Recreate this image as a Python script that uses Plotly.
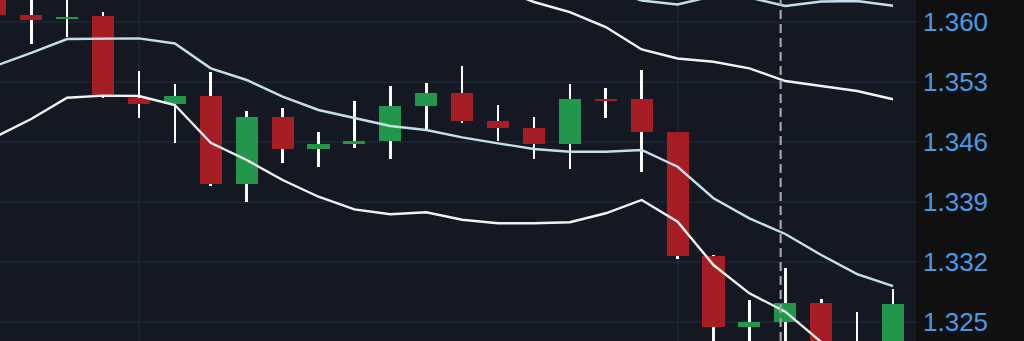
import plotly.graph_objects as go

# ---- data -------------------------------------------------------------
idx = list(range(26))
open_ = [1.3632, 1.36078, 1.36026, 1.36061, 1.35113, 1.35036, 1.35133, 1.34103, 1.34892, 1.34515,
         1.34579, 1.34608, 1.35020, 1.35165, 1.34841, 1.34763, 1.34577, 1.35098, 1.35098, 1.34710,
         1.33266, 1.32442, 1.32500, 1.32715, 1.3222, 1.3221]
high = [1.3640, 1.3630, 1.3631, 1.36117, 1.35428, 1.35270, 1.35417, 1.34958, 1.34997, 1.34713,
        1.35078, 1.35250, 1.35288, 1.35483, 1.35028, 1.34892, 1.35270, 1.35230, 1.35437, 1.34717,
        1.33278, 1.32753, 1.33123, 1.32765, 1.32610, 1.32878]
low = [1.3606, 1.35740, 1.35821, 1.35110, 1.34873, 1.34581, 1.34083, 1.33900, 1.34355, 1.34301,
       1.34530, 1.34398, 1.34736, 1.34822, 1.34612, 1.34398, 1.34281, 1.34873, 1.34250, 1.33228,
       1.3218, 1.3220, 1.3219, 1.3205, 1.3205, 1.3216]
close = [1.36078, 1.36020, 1.36057, 1.35125, 1.35036, 1.35133, 1.34103, 1.34885, 1.34515, 1.34573,
         1.34605, 1.35016, 1.35165, 1.34838, 1.34763, 1.34577, 1.35098, 1.35071, 1.34717, 1.33270,
         1.32442, 1.32500, 1.32715, 1.3212, 1.3212, 1.32706]

band_a = [1.35483, 1.35635, 1.35798, 1.35806, 1.35806, 1.35746, 1.35456, 1.35320, 1.35125, 1.34970,
          1.34873, 1.34783, 1.34736, 1.34651, 1.34581, 1.34515, 1.34483, 1.34483, 1.34503, 1.34308,
          1.33940, 1.33706, 1.33523, 1.33278, 1.33056, 1.32916]
band_b = [1.34655, 1.34865, 1.35113, 1.35137, 1.35133, 1.35028, 1.34588, 1.34386, 1.34153, 1.33958,
          1.33811, 1.33753, 1.33776, 1.33690, 1.33648, 1.33648, 1.33660, 1.33765, 1.33920, 1.33667,
          1.33161, 1.32831, 1.32617, 1.32263, 1.31995, 1.31761]
band_c = [1.36953, 1.37070, 1.37245, 1.37303, 1.37280, 1.37187, 1.37093, 1.37000, 1.36907, 1.36813,
          1.36743, 1.36673, 1.36615, 1.36568, 1.36522, 1.36475, 1.36428, 1.36382, 1.36247, 1.36201,
          1.36300, 1.36282, 1.36183, 1.36236, 1.36242, 1.36186]
band_d = [1.36837, 1.36930, 1.37070, 1.37128, 1.37093, 1.37012, 1.36895, 1.36813, 1.36743, 1.36673,
          1.36603, 1.36545, 1.36487, 1.36440, 1.36393, 1.36230, 1.36113, 1.35938, 1.35676, 1.35571,
          1.35533, 1.35456, 1.35308, 1.35250, 1.35191, 1.35095]

tick_vals = [1.325, 1.332, 1.339, 1.346, 1.353, 1.360]
tick_text = ["1.325", "1.332", "1.339", "1.346", "1.353", "1.360"]
cursor_x = 21.87

# ---- styles -----------------------------------------------------------
RED = "#a61e24"
GREEN = "#22964a"
BAND_BLUE = "#c3dfec"
BAND_WHITE = "#f2f2f2"

fig = go.Figure()

# wicks (thin bars, drawn first)
fig.add_trace(go.Bar(x=idx, y=[h - l for h, l in zip(high, low)], base=low, width=0.073,
                     marker=dict(color="#ffffff", line=dict(width=0)), hoverinfo="skip"))

# bodies
base = [min(o, c) for o, c in zip(open_, close)]
height = [max(abs(c - o), 0.00003) for o, c in zip(open_, close)]
colors = [GREEN if c >= o else RED for o, c in zip(open_, close)]
fig.add_trace(go.Bar(x=idx, y=height, base=base, width=0.615,
                     marker=dict(color=colors, line=dict(width=0))))

# bands
for ser, col in [(band_a, BAND_BLUE), (band_c, BAND_BLUE), (band_b, BAND_WHITE), (band_d, BAND_WHITE)]:
    fig.add_trace(go.Scatter(x=idx, y=ser, mode="lines",
                             line=dict(color=col, width=2.4)))

fig.add_shape(type="line", xref="x", yref="paper", x0=cursor_x, x1=cursor_x, y0=0, y1=1,
              line=dict(color="#a3a3a3", width=2.2, dash="9px,5px"))

fig.update_layout(
    width=1024, height=341,
    margin=dict(l=0, r=108, t=0, b=0),
    paper_bgcolor="#101010",
    plot_bgcolor="#131822",
    showlegend=False,
    barmode="overlay",
    bargap=0,
    xaxis=dict(range=[0.131, 25.639], tickvals=[4, 19], showticklabels=False,
               showgrid=True, gridcolor="#1b2231", gridwidth=1.5, zeroline=False,
               showline=False, ticks=""),
    yaxis=dict(side="right", range=[1.322748, 1.362532], tickvals=tick_vals, ticktext=tick_text,
               showgrid=True, gridcolor="#1b2231", gridwidth=1.5, zeroline=False, ticks="",
               showline=False, ticklabelstandoff=6,
               tickfont=dict(family="Liberation Sans, Arial, sans-serif", size=26, color="#4a9be6")),
)

fig.write_html("out.html")
